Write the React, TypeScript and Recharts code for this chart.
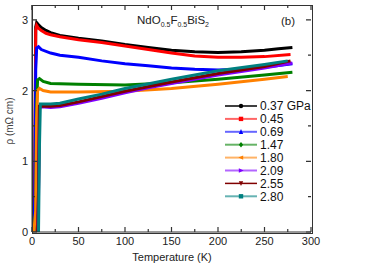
import { LineChart, Line, XAxis, YAxis, Legend } from "recharts";

type Pt = [number, number];

const P037: Pt[] = [[2, 0], [3, 0.6], [4, 2.9], [5, 2.96], [7, 2.93], [10, 2.89], [15, 2.85], [20, 2.82], [30, 2.78], [50, 2.74], [75, 2.7], [100, 2.65], [125, 2.61], [150, 2.57], [175, 2.55], [200, 2.54], [225, 2.55], [250, 2.57], [265, 2.59], [280, 2.61]];
const P045: Pt[] = [[2, 0], [3, 0.5], [4, 2.85], [5, 2.92], [7, 2.88], [10, 2.85], [15, 2.81], [20, 2.79], [30, 2.76], [50, 2.72], [75, 2.68], [100, 2.63], [125, 2.58], [150, 2.53], [175, 2.49], [200, 2.47], [225, 2.47], [250, 2.48], [278, 2.51]];
const P069: Pt[] = [[2, 0], [3, 0.5], [4, 2.3], [5, 2.6], [7, 2.62], [10, 2.58], [20, 2.53], [30, 2.5], [50, 2.47], [75, 2.42], [100, 2.38], [125, 2.35], [150, 2.32], [175, 2.3], [200, 2.29], [225, 2.3], [250, 2.33], [280, 2.38]];
const P147: Pt[] = [[2, 0], [4, 0.3], [5, 1.8], [6, 2.15], [8, 2.17], [12, 2.13], [20, 2.1], [50, 2.09], [100, 2.08], [150, 2.11], [200, 2.16], [250, 2.22], [280, 2.26]];
const P180: Pt[] = [[2, 0], [4, 0.3], [5, 1.6], [6, 2.0], [8, 2.03], [12, 2.0], [20, 1.98], [50, 1.98], [100, 1.99], [150, 2.03], [200, 2.09], [250, 2.16], [275, 2.2]];
const P209: Pt[] = [[6, 0], [7, 0.5], [8, 1.75], [10, 1.77], [20, 1.76], [30, 1.77], [50, 1.82], [75, 1.89], [100, 1.97], [125, 2.04], [150, 2.1], [175, 2.16], [200, 2.22], [225, 2.27], [250, 2.32], [280, 2.39]];
const P255: Pt[] = [[6, 0], [7, 0.6], [8, 1.78], [20, 1.78], [30, 1.79], [50, 1.84], [100, 1.99], [150, 2.12], [200, 2.24], [250, 2.34], [278, 2.42]];
const P280: Pt[] = [[7, 0], [8, 1.2], [9, 1.81], [20, 1.81], [30, 1.82], [50, 1.88], [75, 1.95], [100, 2.03], [150, 2.16], [200, 2.28], [250, 2.37], [275, 2.42]];

const SERIES = [
  { name: "0.37 GPa", pts: P037, color: "#000000", marker: "circle" },
  { name: "0.45", pts: P045, color: "#ff0000", marker: "square" },
  { name: "0.69", pts: P069, color: "#0000ff", marker: "up" },
  { name: "1.47", pts: P147, color: "#008000", marker: "diamond" },
  { name: "1.80", pts: P180, color: "#ff8000", marker: "left" },
  { name: "2.09", pts: P209, color: "#8000ff", marker: "right" },
  { name: "2.55", pts: P255, color: "#800000", marker: "down" },
  { name: "2.80", pts: P280, color: "#008080", marker: "square" },
];

const X_TICKS = [0, 25, 50, 75, 100, 125, 150, 175, 200, 225, 250, 275, 300];
const Y_TICKS = [0, 0.5, 1, 1.5, 2, 2.5, 3];
const X_MAX = 300;
const Y_MAX = 3.21;

const FONT = "'Liberation Sans', Arial, sans-serif";
const AXIS = "#333";

// plot box inside the 369x265 chart
const PLOT_LEFT = 32;
const PLOT_TOP = 5;
const PLOT_RIGHT = 311;
const PLOT_BOTTOM = 232;

function isMajorX(v: number) { return v % 50 === 0; }
function isMajorY(v: number) { return v % 1 === 0; }

function BottomTick(props: any) {
  const { x, y, payload } = props;
  const major = isMajorX(payload.value);
  const len = major ? 5 : 3;
  return (
    <g>
      <path d={`M${x},${y}V${y - len}M${x},${PLOT_TOP}V${PLOT_TOP + len}`} stroke={AXIS} strokeWidth={1.2} fill="none" />
      {major && (
        <text x={x} y={y + 13} textAnchor="middle" fontSize={11} fontFamily={FONT} fill="#222">
          {payload.value}
        </text>
      )}
    </g>
  );
}

function LeftTick(props: any) {
  const { x, y, payload } = props;
  const major = isMajorY(payload.value);
  const len = major ? 5 : 3;
  return (
    <g>
      <path d={`M${x},${y}H${x + len}M${PLOT_RIGHT},${y}H${PLOT_RIGHT - len}`} stroke={AXIS} strokeWidth={1.2} fill="none" />
      {major && (
        <text x={x - 4} y={y + 4} textAnchor="end" fontSize={11} fontFamily={FONT} fill="#222">
          {payload.value}
        </text>
      )}
    </g>
  );
}

function Marker({ kind, cx, cy, color }: { kind: string; cx: number; cy: number; color: string }) {
  const r = 2.2;
  switch (kind) {
    case "circle":
      return <circle cx={cx} cy={cy} r={r} fill={color} />;
    case "square":
      return <rect x={cx - r} y={cy - r} width={2 * r} height={2 * r} fill={color} />;
    case "up":
      return <polygon points={`${cx},${cy - r - 0.5} ${cx - r},${cy + r} ${cx + r},${cy + r}`} fill={color} />;
    case "down":
      return <polygon points={`${cx},${cy + r + 0.5} ${cx - r},${cy - r} ${cx + r},${cy - r}`} fill={color} />;
    case "left":
      return <polygon points={`${cx - r - 0.5},${cy} ${cx + r},${cy - r} ${cx + r},${cy + r}`} fill={color} />;
    case "right":
      return <polygon points={`${cx + r + 0.5},${cy} ${cx - r},${cy - r} ${cx - r},${cy + r}`} fill={color} />;
    default:
      return <polygon points={`${cx},${cy - r - 0.5} ${cx + r},${cy} ${cx},${cy + r + 0.5} ${cx - r},${cy}`} fill={color} />;
  }
}

function LegendBox() {
  const rowH = 12.9;
  return (
    <svg width={110} height={SERIES.length * rowH + 4} style={{ display: "block" }}>
      {SERIES.map((s, i) => {
        const cy = 7 + i * rowH;
        const solid = i === 0 || i === 6;
        return (
          <g key={s.name}>
            <line x1={3} x2={35} y1={cy} y2={cy} stroke={s.color} strokeWidth={solid ? 1.5 : 2} strokeOpacity={solid ? 1 : 0.6} />
            <Marker kind={s.marker} cx={19} cy={cy} color={s.color} />
            <text x={38} y={cy + 4.3} fontSize={12} fontFamily={FONT} fill="#111">{s.name}</text>
          </g>
        );
      })}
    </svg>
  );
}

export default function App() {
  return (
    <div style={{ position: "absolute", left: 0, top: 0, width: 369, height: 265, background: "#fff", fontFamily: FONT }}>
      <LineChart width={369} height={265} margin={{ top: PLOT_TOP, right: 369 - PLOT_RIGHT, bottom: 0, left: 0 }}>
        <XAxis
          type="number"
          dataKey="t"
          domain={[0, X_MAX]}
          ticks={X_TICKS}
          interval={0}
          allowDataOverflow
          height={265 - PLOT_BOTTOM}
          tickSize={0}
          tickMargin={0}
          stroke={AXIS}
          tick={BottomTick}
        />
        <YAxis
          type="number"
          domain={[0, Y_MAX]}
          ticks={Y_TICKS}
          interval={0}
          allowDataOverflow
          width={PLOT_LEFT}
          tickSize={0}
          tickMargin={0}
          stroke={AXIS}
          tick={LeftTick}
        />
        <Legend
          layout="vertical"
          align="center"
          verticalAlign="middle"
          wrapperStyle={{ left: 222, top: 99, width: 110 }}
          content={() => <LegendBox />}
        />
        {SERIES.map((s) => (
          <Line
            key={s.name}
            data={s.pts.map(([t, r]) => ({ t, r }))}
            dataKey="r"
            name={s.name}
            type="linear"
            stroke={s.color}
            strokeWidth={3}
            dot={false}
            activeDot={false}
            isAnimationActive={false}
          />
        ))}
      </LineChart>
      {/* plot frame */}
      <div
        style={{
          position: "absolute",
          left: PLOT_LEFT - 0.5,
          top: PLOT_TOP - 0.5,
          width: PLOT_RIGHT - PLOT_LEFT,
          height: PLOT_BOTTOM - PLOT_TOP,
          border: `1px solid ${AXIS}`,
          pointerEvents: "none",
        }}
      />
      <div style={{ position: "absolute", left: 137, top: 13, fontSize: 11.5, color: "#222", whiteSpace: "nowrap", lineHeight: "14px" }}>
        NdO<sub style={{ fontSize: 7 }}>0.5</sub>F<sub style={{ fontSize: 7 }}>0.5</sub>BiS<sub style={{ fontSize: 7 }}>2</sub>
      </div>
      <div style={{ position: "absolute", left: 281, top: 14, fontSize: 11.5, color: "#222", lineHeight: "14px" }}>(b)</div>
      <div style={{ position: "absolute", left: 172, top: 250, transform: "translateX(-50%)", fontSize: 11, color: "#222", whiteSpace: "nowrap", lineHeight: "14px" }}>
        Temperature (K)
      </div>
      <div style={{ position: "absolute", left: 10, top: 121, transform: "translate(-50%, -50%) rotate(-90deg)", fontSize: 10, color: "#444", whiteSpace: "nowrap", lineHeight: "12px" }}>
        ρ (mΩ cm)
      </div>
    </div>
  );
}
